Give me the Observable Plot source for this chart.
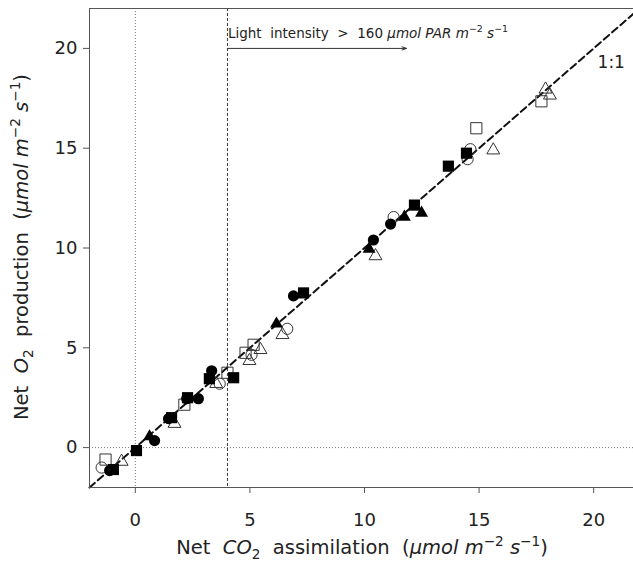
<!DOCTYPE html>
<html><head><meta charset="utf-8">
<script src="https://cdn.jsdelivr.net/npm/d3@7"></script>
<script src="https://cdn.jsdelivr.net/npm/@observablehq/plot@0.6"></script>
<style>body{margin:0;background:#fff;} svg text{white-space:pre;}</style>
</head><body><div id="chart"></div>
<script>
// Net CO2 assimilation (x) vs Net O2 production (y), µmol m-2 s-1
const filledSquares = [[-0.955,-1.1],[0.05,-0.15],[1.58,1.5],[2.28,2.5],[3.23,3.45],[4.29,3.5],[7.34,7.75],[12.18,12.15],[13.66,14.1],[14.45,14.75]];
const filledCircles = [[-1.12,-1.15],[0.84,0.35],[1.45,1.45],[2.24,2.45],[2.75,2.45],[3.33,3.85],[6.9,7.6],[10.39,10.4],[11.14,11.2]];
const filledTriangles = [[0.62,0.55],[6.16,6.2],[10.2,9.95],[11.74,11.55],[12.49,11.75]];
const openSquares = [[-1.3,-0.6],[2.14,2.15],[4.02,3.75],[4.81,4.75],[5.16,5.15],[14.88,16.0],[17.72,17.35]];
const openCircles = [[-1.47,-1.0],[3.68,3.2],[5.07,4.65],[6.63,5.95],[11.27,11.55],[14.5,14.45],[14.62,14.95]];
const openTriangles = [[-0.6,-0.7],[1.71,1.2],[3.53,3.2],[4.98,4.35],[5.46,4.9],[6.42,5.65],[10.48,9.6],[15.62,14.9],[17.9,17.95],[18.09,17.65]];

const xTicks = [0,5,10,15,20];
const yTicks = [0,5,10,15,20];
const xDomain = [-2, 22];
const yDomain = [-2, 22];
const lightThreshold = [4.02];
const oneToOne = [{x:-2,y:-2},{x:22,y:22}];
const arrowData = [{x1:4.02,x2:11.83,y:20.0}];
const oneToOneLabel = [{x:20.17,y:19.3,text:"1:1"}];

const toRows = (arr) => arr.map(([x,y]) => ({x,y}));

const openStyle = {fill:"none", stroke:"#333", strokeWidth:1};
const plot = Plot.plot({
  width:633, height:561,
  marginLeft:89, marginRight:0, marginTop:8, marginBottom:74,
  style:{fontFamily:"DejaVu Sans", fontSize:"18px", color:"#222", background:"#fff"},
  x:{domain:xDomain, range:[89, 639]},
  y:{domain:yDomain},
  marks:[
    Plot.ruleX([0], {stroke:"#666", strokeWidth:0.9, strokeDasharray:"1,2"}),
    Plot.ruleY([0], {stroke:"#666", strokeWidth:0.9, strokeDasharray:"1,2"}),
    Plot.ruleX(lightThreshold, {stroke:"#222", strokeWidth:0.9, strokeDasharray:"3,2"}),
    Plot.line(oneToOne, {x:"x", y:"y", stroke:"#111", strokeWidth:2, strokeDasharray:"7,4"}),
    Plot.arrow(arrowData, {x1:"x1", x2:"x2", y1:"y", y2:"y", stroke:"#333", strokeWidth:1, headLength:7, headAngle:40}),
    Plot.text(oneToOneLabel, {x:"x", y:"y", text:"text", fontSize:17, textAnchor:"start", fill:"#222"}),
    Plot.dot(toRows(openSquares), {x:"x", y:"y", symbol:"square", r:6.3, ...openStyle}),
    Plot.dot(toRows(openCircles), {x:"x", y:"y", symbol:"circle", r:5.6, ...openStyle}),
    Plot.dot(toRows(openTriangles), {x:"x", y:"y", symbol:"triangle", r:4.8, ...openStyle}),
    Plot.dot(toRows(filledSquares), {x:"x", y:"y", symbol:"square", r:6.3, fill:"#000", stroke:"none"}),
    Plot.dot(toRows(filledCircles), {x:"x", y:"y", symbol:"circle", r:5.6, fill:"#000", stroke:"none"}),
    Plot.dot(toRows(filledTriangles), {x:"x", y:"y", symbol:"triangle", r:4.8, fill:"#000", stroke:"none"}),
    Plot.ruleX([xDomain[0]], {stroke:"#555", strokeWidth:1}),
    Plot.ruleY(yDomain, {stroke:"#555", strokeWidth:1}),
    Plot.axisX({ticks:xTicks, tickSize:6, tickPadding:20, label:null, stroke:"#555", fill:"#222"}),
    Plot.axisY({ticks:yTicks, tickSize:6, tickPadding:6, label:null, stroke:"#555", fill:"#222"})
  ]
});
document.getElementById("chart").appendChild(plot);

function rich(sel, parts, size) {
  let shift = 0;
  for (const p of parts) {
    const target = p.sub ? size*0.28 : p.sup ? -size*0.42 : 0;
    const ts = sel.append("tspan").text(p.t).attr("dy", target - shift);
    shift = target;
    if (p.sub || p.sup) ts.attr("font-size", size*0.7);
    if (p.it) ts.attr("font-style", "italic");
  }
}
const svg = d3.select(plot);
const sx = plot.scale("x");
const unitParts = [{t:"(", it:false},{t:"\u03bcmol m", it:true},{t:"\u22122", sup:true},{t:" s", it:true},{t:"\u22121", sup:true},{t:")"}];

const xl = svg.append("text").attr("x", 362).attr("y", 554).attr("text-anchor","middle")
  .attr("font-family","DejaVu Sans").attr("font-size",19.5).attr("fill","#222");
rich(xl, [{t:"Net  "},{t:"CO", it:true},{t:"2", sub:true},{t:"  assimilation  "}, ...unitParts], 19.5);

const yl = svg.append("text").attr("transform","translate(28,247) rotate(-90)").attr("text-anchor","middle")
  .attr("font-family","DejaVu Sans").attr("font-size",19.5).attr("fill","#222");
rich(yl, [{t:"Net  "},{t:"O", it:true},{t:"2", sub:true},{t:"  production  "}, ...unitParts], 19.5);

const al = svg.append("text").attr("x", sx.apply(lightThreshold[0]) + 1).attr("y", 38).attr("text-anchor","start")
  .attr("font-family","DejaVu Sans").attr("font-size",13.5).attr("fill","#222");
rich(al, [{t:"Light  intensity  >  160 "},{t:"\u03bcmol PAR m", it:true},{t:"\u22122", sup:true},{t:" s", it:true},{t:"\u22121", sup:true}], 13.5);
</script>
</body></html>
